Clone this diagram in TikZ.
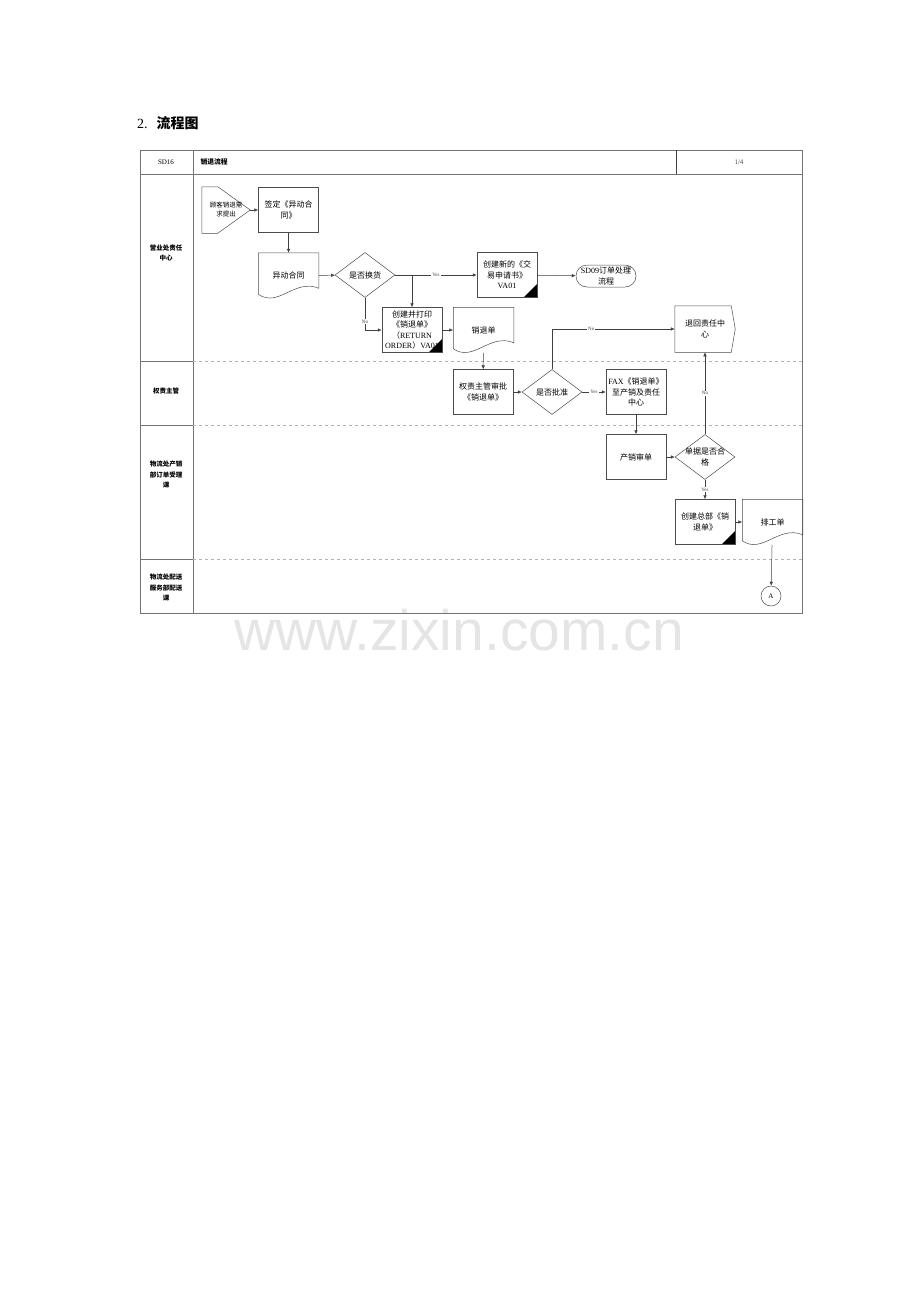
\documentclass[tikz,border=0pt]{standalone}
\usepackage{fontspec}
\setmainfont{Liberation Serif}
\newfontfamily\cjk{Noto Sans CJK SC}
\newfontfamily\wmfont{Liberation Sans}
\usetikzlibrary{positioning,shapes.geometric,arrows.meta}
\newcommand\latn[1]{{\rmfamily #1}}

\tikzset{
  box/.style={rectangle, draw=black!70, line width=0.5pt, minimum width=60pt, minimum height=45pt,
    inner sep=1pt, align=center, font=\cjk\fontsize{8}{10.5}\selectfont},
  sapbox/.style={box, append after command={\pgfextra{\fill ([xshift=-14pt]\tikzlastnode.south east)
    -- (\tikzlastnode.south east) -- ([yshift=14pt]\tikzlastnode.south east) -- cycle;}}},
  docu/.style={box, draw=none, append after command={\pgfextra{\draw[black!70, line width=0.5pt]
    ([yshift=4pt]\tikzlastnode.south west) -- (\tikzlastnode.north west) -- (\tikzlastnode.north east)
    -- ([yshift=10pt]\tikzlastnode.south east)
    .. controls ([xshift=-24pt,yshift=20pt]\tikzlastnode.south east) and ([xshift=20pt,yshift=-10pt]\tikzlastnode.south west)
    .. ([yshift=4pt]\tikzlastnode.south west);}}},
  offpage/.style={box, draw=none, minimum width=48pt, minimum height=46pt, append after command={\pgfextra{\draw[black!70, line width=0.5pt]
    (\tikzlastnode.north west) -- ([xshift=16pt]\tikzlastnode.north west) -- (\tikzlastnode.east)
    -- ([xshift=16pt]\tikzlastnode.south west) -- (\tikzlastnode.south west) -- cycle;}}},
  backto/.style={box, draw=none, minimum height=46pt, append after command={\pgfextra{\draw[black!70, line width=0.5pt]
    (\tikzlastnode.north west) -- ([xshift=-4pt]\tikzlastnode.north east) -- (\tikzlastnode.east)
    -- ([xshift=-4pt]\tikzlastnode.south east) -- (\tikzlastnode.south west) -- cycle;}}},
  decide/.style={box, diamond, aspect=1.4, minimum width=60pt, minimum height=45pt, inner sep=-3pt},
  terminal/.style={box, rounded corners=11pt, minimum height=22pt},
  conn/.style={circle, draw=black!70, line width=0.5pt, minimum size=20pt, inner sep=0pt, font=\fontsize{7}{8}\selectfont},
  lbl/.style={fill=white, inner sep=1pt, font=\fontsize{5}{6}\selectfont, text=black!75},
  lanelbl/.style={align=center, font=\cjk\bfseries\fontsize{6.5}{10.5}\selectfont},
  framec/.style={draw=black!55, line width=0.6pt},
  lanesep/.style={draw=black!30, line width=0.5pt, dashed}
}

\begin{document}
\begin{tikzpicture}[x=1pt, y=-1pt, >={Latex[length=4pt,width=3.5pt]}, line/.style={->, draw=black!75, line width=0.5pt}]
    \useasboundingbox (0,0) rectangle (920,1301);

    % Watermark
    \node[anchor=base, text=black!10, font=\wmfont\fontsize{57}{60}\selectfont] (wmark) at (459,650) {www.zixin.com.cn};

    % Title
    \node[anchor=west, inner sep=0pt, font=\fontsize{14}{16}\selectfont] (title) at (137,123) {2.\hspace{9pt}{\cjk\bfseries 流程图}};

    % Frame and lanes
    \draw[framec] (140,150) rectangle (802,613);
    \draw[framec] (140,174) -- (802,174);
    \draw[framec] (193,150) -- (193,613);
    \draw[draw=black!75, line width=0.6pt] (676,150) -- (676,174);
    \foreach \y in {361,425,559}{
      \draw[framec] (140,\y) -- (193,\y);
      \draw[lanesep] (193,\y) -- (802,\y);
    }

    % Header
    \node[font=\fontsize{7}{8}\selectfont] (code) at (166,162) {SD16};
    \node[anchor=west, font=\cjk\bfseries\fontsize{6.8}{8}\selectfont] (proc) at (197,162) {销退流程};
    \node[font=\fontsize{7}{8}\selectfont, text=black!70] (page) at (739,162) {1/4};

    % Lane labels
    \node[lanelbl] (lane1) at (166,253) {营业处责任\\中心};
    \node[lanelbl] (lane2) at (166,391) {权责主管};
    \node[lanelbl] (lane3) at (166,475) {物流处产销\\部订单受理\\课};
    \node[lanelbl] (lane4) at (166,588) {物流处配送\\服务部配送\\课};

    % Nodes
    \node[offpage, font=\cjk\fontsize{6.5}{9}\selectfont] (cust) at (226,210) {顾客销退需\\求提出};
    \node[box, right=8pt of cust] (sign) {签定《异动合\\同》};
    \node[docu, below=20pt of sign] (chgdoc) {异动合同};
    \node[decide] (swap) at (365,275) {是否换货};
    \node[sapbox] (newreq) at (507,275) {创建新的《交\\易申请书》\\\latn{VA01}};
    \node[terminal] (sdnine) at (606,276) {\latn{SD09}订单处理\\流程};
    \node[sapbox] (retord) at (412,330) {创建并打印\\《销退单》\\（\latn{RETURN}\\\latn{ORDER}）\latn{VA01}};
    \node[docu, right=11pt of retord] (salesdoc) {销退单};
    \node[backto] (retc) at (705,329) {退回责任中\\心};
    \node[box] (approve) at (483,392) {权责主管审批\\《销退单》};
    \node[decide] (okq) at (552,392) {是否批准};
    \node[box] (fax) at (636,392) {\latn{FAX}《销退单》\\至产销及责任\\中心};
    \node[box] (review) at (636,457) {产销审单};
    \node[decide] (qual) at (705,457) {单据是否合\\格};
    \node[sapbox] (hqord) at (705,522) {创建总部《销\\退单》};
    \node[docu, right=7pt of hqord] (sched) {排工单};
    \node[conn] (ca) at (771,596) {A};

    % Connectors
    \draw[line] (cust) -- (sign);
    \draw[line] (sign) -- (chgdoc);
    \draw[line] (chgdoc) -- (swap);
    \draw[line] (swap) -- node[lbl] {Yes} (newreq);
    \draw[line] (swap.east) -| (retord);
    \draw[line] (swap) |- node[lbl, pos=0.37] {No} (retord);
    \draw[line] (newreq) -- (sdnine);
    \draw[line] (retord) -- (salesdoc);
    \draw[line] (salesdoc) -- (approve);
    \draw[line] (approve) -- (okq);
    \draw[line] (okq) |- node[lbl, pos=0.66] {No} (retc);
    \draw[line] (okq) -- node[lbl] {Yes} (fax);
    \draw[line] (fax) -- (review);
    \draw[line] (review) -- (qual);
    \draw[line] (qual) -- node[lbl] {No} (retc);
    \draw[line] (qual) -- node[lbl] {Yes} (hqord);
    \draw[line] (hqord) -- (sched);
    \draw[line] (sched) -- (ca);

\end{tikzpicture}
\end{document}
